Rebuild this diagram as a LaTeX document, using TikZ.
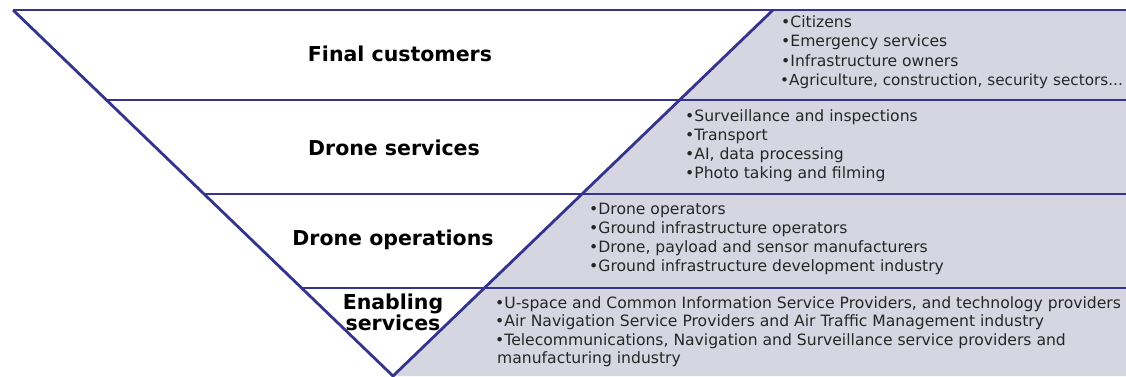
\documentclass[tikz,border=0pt]{standalone}
\usepackage{fontspec}
\setmainfont{DejaVu Sans}
\definecolor{lineblue}{HTML}{34348C}
\definecolor{panelgray}{HTML}{D6D6E2}
\definecolor{itemtext}{HTML}{262626}
\begin{document}
\begin{tikzpicture}[x=1pt,y=-1pt,
  divider/.style={draw=lineblue,line width=2.8pt},
  title/.style={font=\bfseries\fontsize{20.5}{24}\selectfont,text=black,inner sep=0pt},
  item/.style={font=\fontsize{15.6}{18}\selectfont,text=itemtext,inner sep=0pt,anchor=base west}]
\useasboundingbox (0,0) rectangle (1126,376);
\coordinate (tl) at (13,10);
\coordinate (apex) at (393,376);
\coordinate (tr) at (773,10);
\coordinate (re0) at (1126,10);
\coordinate (br) at (1126,376);
\coordinate (l1) at (106.4,100);
\coordinate (r1) at (1126,100);
\coordinate (l2) at (204,194);
\coordinate (r2) at (1126,194);
\coordinate (l3) at (301.6,288);
\coordinate (r3) at (1126,288);
\fill[panelgray] (tr) -- (re0) -- (br) -- (apex) -- cycle;
\draw[divider] (tl) -- (re0);
\draw[divider] (l1) -- (r1);
\draw[divider] (l2) -- (r2);
\draw[divider] (l3) -- (r3);
\draw[divider] (tl) -- (apex) -- (tr);
\node[title] (t1) at (400,54) {Final customers};
\node[title] (t2) at (394,148) {Drone services};
\node[title] (t3) at (393,240) {Drone operations};
\node[title,align=center,font=\bfseries\fontsize{20.5}{21}\selectfont] (t4) at (393,312.5) {Enabling\\services};
\node[item] (a1) at (781,27) {•Citizens};
\node[item] (a2) at (781,46.6) {•Emergency services};
\node[item] (a3) at (781,66.2) {•Infrastructure owners};
\node[item,font=\fontsize{15.25}{18}\selectfont] (a4) at (780,85.8) {•Agriculture, construction, security sectors...};
\node[item] (b1) at (685,121) {•Surveillance and inspections};
\node[item] (b2) at (685,140) {•Transport};
\node[item] (b3) at (685,159) {•AI, data processing};
\node[item] (b4) at (685,178) {•Photo taking and filming};
\node[item] (c1) at (589,214) {•Drone operators};
\node[item] (c2) at (589,233) {•Ground infrastructure operators};
\node[item] (c3) at (589,252) {•Drone, payload and sensor manufacturers};
\node[item] (c4) at (589,271) {•Ground infrastructure development industry};
\node[item] (d1) at (495,308) {•U-space and Common Information Service Providers, and technology providers};
\node[item] (d2) at (495,326.5) {•Air Navigation Service Providers and Air Traffic Management industry};
\node[item] (d3) at (495,345) {•Telecommunications, Navigation and Surveillance service providers and};
\node[item] (d4) at (497,363.5) {manufacturing industry};
\end{tikzpicture}
\end{document}
